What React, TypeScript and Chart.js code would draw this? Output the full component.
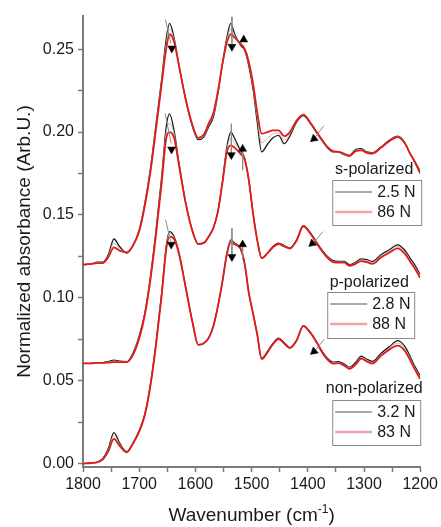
import React, { useEffect, useRef } from 'react';
import { Chart, registerables } from 'chart.js';

Chart.register(...registerables);

// Wavenumber grid (cm-1)
const WAVENUMBERS = [
  1800, 1785, 1775, 1765, 1755, 1745, 1735, 1722, 1712, 1700,
  1690, 1680, 1670, 1660, 1652, 1646, 1638, 1629, 1617, 1605,
  1595, 1585, 1576, 1568, 1560, 1552, 1544, 1537, 1530, 1520,
  1512, 1505, 1497, 1490, 1482, 1472, 1462, 1452, 1442, 1432,
  1420, 1408, 1395, 1385, 1375, 1365, 1355, 1345, 1335, 1326,
  1315, 1305, 1295, 1285, 1270, 1255, 1240, 1228, 1218, 1210,
  1200,
];

// s-polarized (offset 0.12)
const S_LOW = [
  0.1200, 0.1205, 0.1215, 0.1215, 0.1260, 0.1355, 0.1310, 0.1270, 0.1310, 0.1410,
  0.1570, 0.1780, 0.2050, 0.2320, 0.2560, 0.2655, 0.2570, 0.2400, 0.2190, 0.2030,
  0.1955, 0.1970, 0.2035, 0.2090, 0.2230, 0.2410, 0.2570, 0.2655, 0.2590, 0.2525,
  0.2490, 0.2400, 0.2250, 0.2060, 0.1880, 0.1925, 0.1965, 0.1980, 0.1930, 0.1975,
  0.2060, 0.2100, 0.2050, 0.2000, 0.1950, 0.1905, 0.1880, 0.1880, 0.1870, 0.1860,
  0.1895, 0.1900, 0.1880, 0.1875, 0.1910, 0.1950, 0.1975, 0.1940, 0.1870, 0.1820,
  0.1750,
];
const S_MID = [
  0.1200, 0.1205, 0.1213, 0.1213, 0.1253, 0.1330, 0.1298, 0.1272, 0.1310, 0.1405,
  0.1563, 0.1770, 0.2035, 0.2305, 0.2530, 0.2622, 0.2558, 0.2398, 0.2192, 0.2035,
  0.1960, 0.1977, 0.2045, 0.2102, 0.2238, 0.2410, 0.2555, 0.2622, 0.2580, 0.2530,
  0.2495, 0.2412, 0.2267, 0.2090, 0.1935, 0.1962, 0.1988, 0.1995, 0.1952, 0.1988,
  0.2065, 0.2102, 0.2052, 0.2002, 0.1952, 0.1907, 0.1882, 0.1880, 0.1868, 0.1858,
  0.1890, 0.1895, 0.1878, 0.1872, 0.1908, 0.1948, 0.1972, 0.1938, 0.1870, 0.1822,
  0.1755,
];
const S_HIGH = [
  0.1200, 0.1205, 0.1210, 0.1210, 0.1245, 0.1305, 0.1285, 0.1275, 0.1310, 0.1400,
  0.1555, 0.1760, 0.2020, 0.2290, 0.2500, 0.2590, 0.2545, 0.2395, 0.2195, 0.2040,
  0.1965, 0.1985, 0.2055, 0.2115, 0.2245, 0.2410, 0.2540, 0.2590, 0.2570, 0.2535,
  0.2500, 0.2425, 0.2285, 0.2120, 0.1990, 0.2000, 0.2010, 0.2010, 0.1975, 0.2000,
  0.2070, 0.2105, 0.2055, 0.2005, 0.1955, 0.1910, 0.1885, 0.1880, 0.1865, 0.1855,
  0.1885, 0.1890, 0.1875, 0.1870, 0.1905, 0.1945, 0.1970, 0.1935, 0.1870, 0.1825,
  0.1760,
];

// p-polarized (offset 0.06)
const P_LOW = [
  0.0605, 0.0605, 0.0610, 0.0610, 0.0615, 0.0625, 0.0618, 0.0615, 0.0660, 0.0770,
  0.0910, 0.1130, 0.1410, 0.1730, 0.2030, 0.2110, 0.2010, 0.1810, 0.1570, 0.1400,
  0.1325, 0.1330, 0.1370, 0.1420, 0.1520, 0.1700, 0.1910, 0.2000, 0.1960, 0.1890,
  0.1840, 0.1710, 0.1500, 0.1350, 0.1240, 0.1270, 0.1310, 0.1330, 0.1315, 0.1300,
  0.1350, 0.1435, 0.1390, 0.1340, 0.1290, 0.1250, 0.1225, 0.1220, 0.1220, 0.1200,
  0.1215, 0.1235, 0.1230, 0.1220, 0.1260, 0.1290, 0.1320, 0.1290, 0.1240, 0.1200,
  0.1140,
];
const P_MID = [
  0.0605, 0.0605, 0.0609, 0.0609, 0.0612, 0.0619, 0.0615, 0.0613, 0.0655, 0.0762,
  0.0902, 0.1120, 0.1398, 0.1712, 0.1995, 0.2055, 0.1988, 0.1802, 0.1568, 0.1400,
  0.1325, 0.1331, 0.1371, 0.1421, 0.1520, 0.1695, 0.1895, 0.1960, 0.1932, 0.1880,
  0.1835, 0.1710, 0.1500, 0.1349, 0.1240, 0.1269, 0.1307, 0.1327, 0.1312, 0.1298,
  0.1347, 0.1433, 0.1387, 0.1336, 0.1286, 0.1246, 0.1220, 0.1216, 0.1216, 0.1196,
  0.1210, 0.1228, 0.1222, 0.1212, 0.1251, 0.1281, 0.1309, 0.1279, 0.1230, 0.1190,
  0.1130,
];
const P_HIGH = [
  0.0605, 0.0605, 0.0608, 0.0608, 0.0610, 0.0613, 0.0612, 0.0612, 0.0650, 0.0755,
  0.0895, 0.1110, 0.1385, 0.1695, 0.1960, 0.2000, 0.1965, 0.1795, 0.1565, 0.1400,
  0.1325, 0.1332, 0.1372, 0.1423, 0.1520, 0.1690, 0.1880, 0.1920, 0.1905, 0.1870,
  0.1830, 0.1710, 0.1500, 0.1348, 0.1240, 0.1268, 0.1305, 0.1325, 0.1310, 0.1297,
  0.1345, 0.1432, 0.1385, 0.1333, 0.1283, 0.1242, 0.1215, 0.1212, 0.1212, 0.1193,
  0.1205, 0.1222, 0.1215, 0.1205, 0.1243, 0.1272, 0.1298, 0.1268, 0.1220, 0.1180,
  0.1120,
];

// non-polarized (no offset)
const N_LOW = [
  0.0000, 0.0005, 0.0010, 0.0030, 0.0090, 0.0187, 0.0125, 0.0072, 0.0120, 0.0200,
  0.0300, 0.0480, 0.0730, 0.1030, 0.1310, 0.1400, 0.1370, 0.1270, 0.1060, 0.0850,
  0.0717, 0.0725, 0.0760, 0.0830, 0.0950, 0.1100, 0.1270, 0.1350, 0.1330, 0.1300,
  0.1200, 0.1030, 0.0900, 0.0780, 0.0635, 0.0675, 0.0725, 0.0757, 0.0730, 0.0700,
  0.0745, 0.0832, 0.0790, 0.0740, 0.0680, 0.0635, 0.0612, 0.0615, 0.0600, 0.0582,
  0.0610, 0.0648, 0.0630, 0.0617, 0.0665, 0.0705, 0.0742, 0.0710, 0.0648, 0.0590,
  0.0530,
];
const N_MID = [
  0.0000, 0.0004, 0.0009, 0.0028, 0.0083, 0.0168, 0.0117, 0.0070, 0.0118, 0.0197,
  0.0296, 0.0475, 0.0725, 0.1022, 0.1300, 0.1385, 0.1362, 0.1266, 0.1058, 0.0850,
  0.0717, 0.0725, 0.0760, 0.0830, 0.0949, 0.1097, 0.1266, 0.1342, 0.1326, 0.1299,
  0.1199, 0.1030, 0.0900, 0.0780, 0.0632, 0.0672, 0.0722, 0.0754, 0.0727, 0.0698,
  0.0743, 0.0831, 0.0788, 0.0737, 0.0677, 0.0631, 0.0608, 0.0610, 0.0595, 0.0577,
  0.0604, 0.0641, 0.0623, 0.0610, 0.0657, 0.0696, 0.0727, 0.0696, 0.0636, 0.0581,
  0.0520,
];
const N_HIGH = [
  0.0000, 0.0004, 0.0008, 0.0025, 0.0075, 0.0150, 0.0108, 0.0068, 0.0115, 0.0193,
  0.0292, 0.0470, 0.0720, 0.1015, 0.1290, 0.1370, 0.1355, 0.1262, 0.1057, 0.0850,
  0.0717, 0.0726, 0.0760, 0.0830, 0.0948, 0.1095, 0.1262, 0.1335, 0.1322, 0.1298,
  0.1198, 0.1030, 0.0900, 0.0780, 0.0630, 0.0670, 0.0720, 0.0752, 0.0725, 0.0697,
  0.0742, 0.0830, 0.0787, 0.0735, 0.0674, 0.0628, 0.0604, 0.0606, 0.0591, 0.0572,
  0.0598, 0.0634, 0.0617, 0.0604, 0.0650, 0.0688, 0.0712, 0.0683, 0.0625, 0.0572,
  0.0510,
];

const GROUP_TITLES = ['s-polarized', 'p-polarized', 'non-polarized'];
const LOW_LABELS = ['2.5 N', '2.8 N', '3.2 N'];
const HIGH_LABELS = ['86 N', '88 N', '83 N'];

const X_TICKS = [1800, 1750, 1700, 1650, 1600, 1550, 1500, 1450, 1400, 1350, 1300, 1250, 1200];
const Y_TICKS = [0, 0.025, 0.05, 0.075, 0.1, 0.125, 0.15, 0.175, 0.2, 0.225, 0.25];

// annotation arrows: [wavenumber1, value1, wavenumber2, value2]
const ARROW_LINES = [
  [1653.5, 0.268, 1643.5, 0.2534],
  [1535, 0.2695, 1535, 0.2534],
  [1371, 0.204, 1387, 0.1968],
  [1654, 0.2114, 1643, 0.193],
  [1536, 0.205, 1536, 0.187],
  [1516, 0.1895, 1516, 0.177],
  [1373, 0.14, 1390, 0.1332],
  [1653, 0.147, 1644, 0.134],
  [1535, 0.142, 1535, 0.126],
  [1516, 0.132, 1516, 0.123],
  [1371, 0.075, 1387, 0.0682],
];
const ARROW_DOWN = [[1642, 0.2505], [1535, 0.2515], [1642.4, 0.1896], [1536, 0.1862], [1643, 0.1322], [1535, 0.1247]];
const ARROW_UP = [[1514, 0.2557], [1516, 0.1898], [1516, 0.1322]];
const ARROW_DIAG = [[1389, 0.196], [1392, 0.1328], [1389, 0.0677]];

const FONT = '"Liberation Sans", Arial, Helvetica, sans-serif';

const pts = (arr: number[]) => WAVENUMBERS.map((x, i) => ({ x, y: arr[i] }));

const groupLegendPlugin = {
  id: 'groupLegend',
  afterDraw(chart: any) {
    const { ctx, chartArea } = chart;
    const r = chartArea.right;
    const boxes = [
      { tx: r - 46, ty: 170, x: r - 88, y: 180, w: 89, h: 45 },
      { tx: r - 51, ty: 283, x: r - 93, y: 292, w: 87, h: 46 },
      { tx: r - 46, ty: 389, x: r - 88, y: 400, w: 88, h: 45 },
    ];
    ctx.save();
    ctx.font = `16px ${FONT}`;
    ctx.textBaseline = 'middle';
    boxes.forEach((b, i) => {
      ctx.fillStyle = '#ffffff';
      ctx.fillRect(b.x, b.y, b.w, b.h);
      ctx.strokeStyle = '#8a8a8a';
      ctx.lineWidth = 1;
      ctx.strokeRect(b.x + 0.5, b.y + 0.5, b.w, b.h);
      ctx.fillStyle = '#1a1a1a';
      ctx.textAlign = 'center';
      ctx.fillText(GROUP_TITLES[i], b.tx, b.ty);
      ctx.textAlign = 'left';
      const r1 = b.y + 12;
      const r2 = b.y + 32;
      ctx.strokeStyle = '#555555';
      ctx.lineWidth = 1;
      ctx.beginPath();
      ctx.moveTo(b.x + 3, r1);
      ctx.lineTo(b.x + 40, r1);
      ctx.stroke();
      ctx.strokeStyle = '#f2a3aa';
      ctx.lineWidth = 2.5;
      ctx.beginPath();
      ctx.moveTo(b.x + 3, r2);
      ctx.lineTo(b.x + 40, r2);
      ctx.stroke();
      ctx.fillText(LOW_LABELS[i], b.x + 45, r1 + 1);
      ctx.fillText(HIGH_LABELS[i], b.x + 45, r2 + 1);
    });
    ctx.restore();
  },
};

const xTitlePlugin = {
  id: 'xTitle',
  afterDraw(chart: any) {
    const { ctx, chartArea } = chart;
    const cx = (chartArea.left + chartArea.right) / 2;
    const base = 521;
    ctx.save();
    ctx.fillStyle = '#1a1a1a';
    ctx.textBaseline = 'alphabetic';
    ctx.textAlign = 'left';
    const main = 'Wavenumber (cm';
    const sup = '-1';
    const end = ')';
    ctx.font = `19px ${FONT}`;
    const wMain = ctx.measureText(main).width;
    const wEnd = ctx.measureText(end).width;
    ctx.font = `12px ${FONT}`;
    const wSup = ctx.measureText(sup).width;
    const total = wMain + wSup + wEnd;
    let x = cx - total / 2;
    ctx.font = `19px ${FONT}`;
    ctx.fillText(main, x, base);
    x += wMain;
    ctx.font = `12px ${FONT}`;
    ctx.fillText(sup, x, base - 8);
    x += wSup;
    ctx.font = `19px ${FONT}`;
    ctx.fillText(end, x, base);
    ctx.restore();
  },
};

export default function App() {
  const ref = useRef<HTMLCanvasElement | null>(null);

  useEffect(() => {
    if (!ref.current) return;
    const groups = [
      [S_LOW, S_MID, S_HIGH],
      [P_LOW, P_MID, P_HIGH],
      [N_LOW, N_MID, N_HIGH],
    ];
    const styles = [
      { color: '#1c1c1c', width: 1.3, order: 4 },
      { color: '#b9b9b9', width: 1, order: 3 },
      { color: '#e41a1a', width: 1.8, order: 2 },
    ];
    const datasets: any[] = [];
    groups.forEach((g, gi) => {
      g.forEach((arr, si) => {
        const st = styles[si];
        datasets.push({
          type: 'line',
          label: si === 0 ? LOW_LABELS[gi] : si === 2 ? HIGH_LABELS[gi] : '',
          data: pts(arr),
          borderColor: st.color,
          borderWidth: st.width,
          pointRadius: 0,
          fill: false,
          cubicInterpolationMode: 'monotone',
          order: st.order,
        });
      });
    });
    ARROW_LINES.forEach((l) => {
      datasets.push({
        type: 'line',
        label: '',
        data: [{ x: l[0], y: l[1] }, { x: l[2], y: l[3] }],
        borderColor: '#8c8c8c',
        borderWidth: 1,
        pointRadius: 0,
        order: 1,
      });
    });
    const heads = [
      { arr: ARROW_DOWN, rot: 180 },
      { arr: ARROW_UP, rot: 0 },
      { arr: ARROW_DIAG, rot: 230 },
    ];
    heads.forEach((h) => {
      datasets.push({
        type: 'line',
        label: '',
        data: h.arr.map((p) => ({ x: p[0], y: p[1] })),
        showLine: false,
        pointStyle: 'triangle',
        pointRadius: 4.6,
        pointRotation: h.rot,
        pointBackgroundColor: '#000',
        pointBorderColor: '#000',
        pointBorderWidth: 0.5,
        order: 0,
      });
    });

    const chart = new Chart(ref.current, {
      type: 'line',
      data: { datasets },
      options: {
        responsive: false,
        animation: false,
        events: [],
        layout: { padding: { left: 0, right: 18, top: 16, bottom: 0 } },
        plugins: { legend: { display: false }, tooltip: { enabled: false } },
        scales: {
          x: {
            type: 'linear',
            reverse: true,
            min: 1200,
            max: 1800,
            afterBuildTicks: (s: any) => {
              s.ticks = X_TICKS.map((v) => ({ value: v }));
            },
            afterFit: (s: any) => {
              s.height = 60;
            },
            ticks: {
              autoSkip: false,
              maxRotation: 0,
              padding: 3,
              color: '#1a1a1a',
              font: { family: FONT, size: 16 },
              callback: (v: any) => (Number(v) % 100 === 0 ? String(v) : ''),
            },
            grid: { drawOnChartArea: false, drawTicks: true, tickLength: 5, color: '#7a7a7a', tickWidth: 1.5 },
            border: { display: true, color: '#7a7a7a', width: 2 },
          },
          y: {
            type: 'linear',
            min: -0.002,
            max: 0.27,
            afterBuildTicks: (s: any) => {
              s.ticks = Y_TICKS.map((v) => ({ value: v }));
            },
            afterFit: (s: any) => {
              s.width = 83;
            },
            ticks: {
              padding: 4,
              color: '#1a1a1a',
              font: { family: FONT, size: 16 },
              callback: (v: any, i: number) => (i % 2 === 0 ? Number(v).toFixed(2) : ''),
            },
            grid: { drawOnChartArea: false, drawTicks: true, tickLength: 5, color: '#7a7a7a', tickWidth: 1.5 },
            border: { display: true, color: '#7a7a7a', width: 2 },
            title: {
              display: true,
              text: 'Normalized absorbance (Arb.U.)',
              color: '#1a1a1a',
              font: { family: FONT, size: 19 },
              padding: { top: 13, bottom: 0 },
            },
          },
        },
      },
      plugins: [groupLegendPlugin, xTitlePlugin],
    } as any);
    return () => chart.destroy();
  }, []);

  return (
    <div style={{ position: 'fixed', left: 0, top: 0, width: 441, height: 527, background: '#fff' }}>
      <canvas ref={ref} width={441} height={527} style={{ width: 441, height: 527, display: 'block' }} />
    </div>
  );
}
